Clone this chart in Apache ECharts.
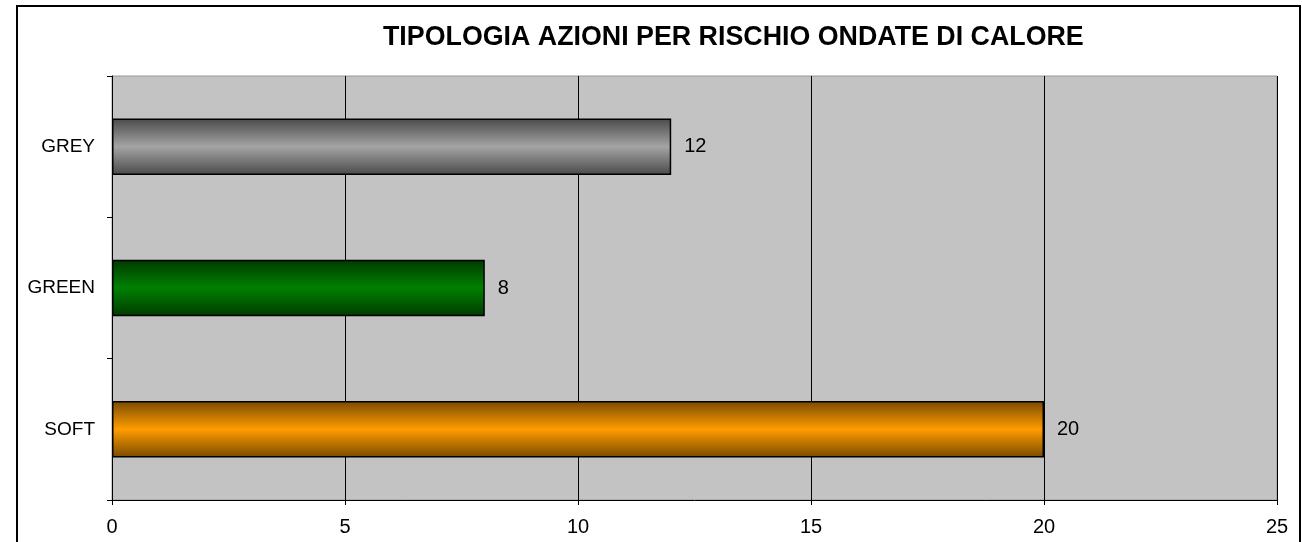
<!DOCTYPE html>
<html>
<head>
<meta charset="utf-8">
<script src="https://cdn.jsdelivr.net/npm/echarts@6/dist/echarts.min.js"></script>
<style>
    html, body { margin: 0; padding: 0; background: #fff; }
    #chart { width: 1302px; height: 542px; }
</style>
</head>
<body>
<div id="chart"></div>
<script>
var categories = ['SOFT', 'GREEN', 'GREY'];
var values = [20, 8, 12];
var barEdge = ['#7a4a00', '#003a00', '#4a4a4a'];
var barMid = ['#ff9c00', '#008000', '#a4a4a4'];
var xTicks = [0, 5, 10, 15, 20, 25];

var font = '"Liberation Sans", Arial, sans-serif';

var gradient = function (i) {
    return new echarts.graphic.LinearGradient(0, 0, 0, 1, [
        { offset: 0, color: barEdge[i] },
        { offset: 0.5, color: barMid[i] },
        { offset: 1, color: barEdge[i] }
    ]);
};

var chart = echarts.init(document.getElementById('chart'));
var option = {
    backgroundColor: '#fff',
    animation: false,
    graphic: [{
        type: 'rect',
        shape: { x: 17, y: 6, width: 1283, height: 560 },
        style: { fill: 'none', stroke: '#000', lineWidth: 2 },
        z: 100
    }, {
        type: 'text',
        left: 383,
        top: 24,
        style: {
            text: 'TIPOLOGIA AZIONI PER RISCHIO ONDATE DI CALORE',
            font: 'bold 26.8px ' + font,
            fill: '#000'
        }
    }],
    grid: {
        left: 112,
        right: 25,
        top: 76,
        bottom: 42,
        show: true,
        backgroundColor: '#c3c3c3',
        borderColor: '#999',
        borderWidth: 1
    },
    xAxis: {
        type: 'value',
        min: 0,
        max: 25,
        interval: 5,
        axisLine: { show: true, lineStyle: { color: '#000', width: 1 } },
        axisTick: { show: true, length: 5, lineStyle: { color: '#000' } },
        axisLabel: {
            margin: 17,
            color: '#000',
            fontSize: 20,
            fontFamily: font,
            formatter: function (v) { return xTicks.indexOf(v) >= 0 ? String(v) : ''; }
        },
        splitLine: { show: true, lineStyle: { color: '#000', width: 1 } }
    },
    yAxis: {
        type: 'category',
        data: categories,
        axisLine: { show: true, lineStyle: { color: '#000', width: 1 } },
        axisTick: { show: true, length: 5, alignWithLabel: false, lineStyle: { color: '#000' } },
        axisLabel: { margin: 17, color: '#000', fontSize: 19, fontFamily: font },
        splitLine: { show: false }
    },
    series: [{
        type: 'bar',
        barWidth: '40%',
        data: values.map(function (v, i) {
            return {
                value: v,
                itemStyle: { color: gradient(i), borderColor: '#000', borderWidth: 1.5 }
            };
        }),
        label: {
            show: true,
            position: 'right',
            distance: 13,
            color: '#000',
            fontSize: 20,
            fontFamily: font
        }
    }]
};
chart.setOption(option);
</script>
</body>
</html>
